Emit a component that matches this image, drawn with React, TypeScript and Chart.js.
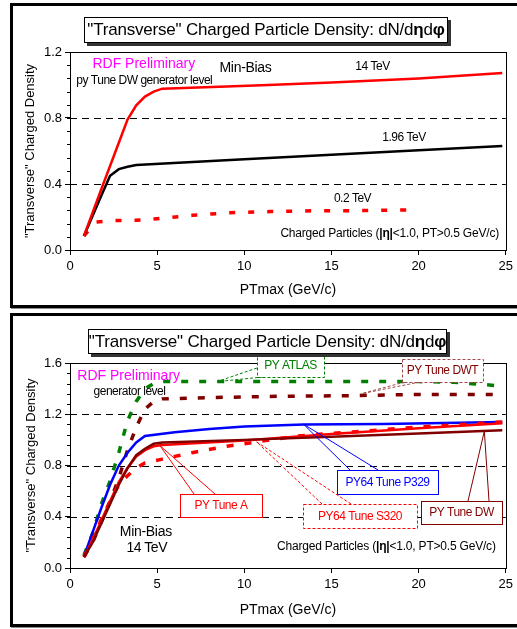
import React, { useEffect, useRef } from 'react';
import { Chart, registerables } from 'chart.js';
Chart.register(...registerables);

const FONT = '"Liberation Sans", Arial, Helvetica, sans-serif';

// ---------- shared axis ticks ----------
const xTickValues = [0, 5, 10, 15, 20, 25];
const topYTicks = [0, 0.4, 0.8, 1.2];
const botYTicks = [0, 0.4, 0.8, 1.2, 1.6];
const minorStep = 0.08;

// ---------- top chart data (Tune DW, three energies) ----------
const top14X = [0.8, 1.8, 2.8, 3.3, 3.8, 4.3, 4.8, 5.3, 11, 15, 20, 24.8];
const top14Y = [0.085, 0.37, 0.65, 0.79, 0.877, 0.93, 0.96, 0.978, 0.998, 1.015, 1.04, 1.073];
const top196X = [0.8, 1.8, 2.3, 2.8, 3.3, 3.8, 10, 15, 20, 24.8];
const top196Y = [0.085, 0.33, 0.45, 0.49, 0.505, 0.515, 0.55, 0.578, 0.605, 0.631];
const top02X = [0.8, 1.5, 2.5, 3.8, 5, 7, 9, 11.5, 14, 16, 19.6];
const top02Y = [0.085, 0.17, 0.178, 0.18, 0.19, 0.21, 0.225, 0.233, 0.238, 0.238, 0.243];

// ---------- bottom chart data (14 TeV, several tunes) ----------
const atlasX = [0.8, 1.3, 1.8, 2.3, 2.8, 3.3, 3.8, 4.3, 4.8, 5.3, 8, 12, 16, 20, 22, 24.8];
const atlasY = [0.1, 0.27, 0.5, 0.68, 0.9, 1.15, 1.3, 1.4, 1.44, 1.455, 1.455, 1.455, 1.455, 1.455, 1.45, 1.42];
const dwtX = [0.8, 1.3, 1.8, 2.3, 2.8, 3.3, 3.8, 4.3, 4.8, 5.3, 8, 12, 16, 20, 24.8];
const dwtY = [0.09, 0.2, 0.36, 0.52, 0.7, 0.92, 1.1, 1.24, 1.3, 1.32, 1.33, 1.34, 1.345, 1.355, 1.355];
const p329X = [0.8, 1.3, 1.8, 2.3, 2.8, 3.3, 3.8, 4.3, 6, 8, 10, 13.4, 18, 24.8];
const p329Y = [0.09, 0.28, 0.47, 0.65, 0.8, 0.9, 0.98, 1.03, 1.06, 1.085, 1.105, 1.12, 1.123, 1.14];
const tuneAX = [0.8, 1.3, 1.8, 2.3, 2.8, 3.3, 3.8, 4.3, 4.8, 5.3, 10, 15, 20, 24.8];
const tuneAY = [0.085, 0.22, 0.37, 0.52, 0.67, 0.78, 0.87, 0.92, 0.95, 0.96, 0.995, 1.045, 1.09, 1.13];
const tuneDWX = [0.8, 1.3, 1.8, 2.3, 2.8, 3.3, 3.8, 4.3, 4.8, 5.3, 10, 15, 20, 24.8];
const tuneDWY = [0.085, 0.2, 0.35, 0.5, 0.65, 0.78, 0.88, 0.93, 0.97, 0.98, 1.0, 1.025, 1.05, 1.075];
const s320X = [0.8, 1.3, 1.8, 2.3, 2.8, 3.3, 3.8, 4.3, 5.3, 7, 9, 11, 13, 15, 20, 24.8];
const s320Y = [0.085, 0.22, 0.38, 0.52, 0.65, 0.72, 0.78, 0.82, 0.85, 0.9, 0.95, 0.99, 1.03, 1.05, 1.1, 1.14];

const RED = '#ff0000';
const DARKRED = '#800000';
const GREEN = '#008000';
const BLUE = '#0000ff';

type Seg = { t: string; bold?: boolean };
type TextItem = { segs: Seg[]; x: number; y: number; size: number; color: string; align: 'left' | 'center' | 'right'; ls?: number };
type Callout = {
  text: string; box: { x: number; y: number; w: number; h: number }; tx: number; ty: number;
  bases: [number, number][]; target: [number, number]; color: string; border: string; dashed: boolean;
};

function drawRich(ctx: CanvasRenderingContext2D, it: TextItem) {
  ctx.save();
  ctx.fillStyle = it.color;
  ctx.textBaseline = 'middle';
  ctx.textAlign = 'left';
  (ctx as any).letterSpacing = (it.ls || 0) + 'px';
  const fonts = it.segs.map((s) => `${s.bold ? 'bold ' : ''}${it.size}px ${FONT}`);
  const widths = it.segs.map((s, i) => { ctx.font = fonts[i]; return ctx.measureText(s.t).width; });
  const total = widths.reduce((a, b) => a + b, 0);
  let cx = it.align === 'left' ? it.x : it.align === 'center' ? it.x - total / 2 : it.x - total;
  it.segs.forEach((s, i) => { ctx.font = fonts[i]; ctx.fillText(s.t, cx, it.y); cx += widths[i]; });
  ctx.restore();
}

type Spec = {
  width: number; height: number; top: number;
  yMax: number; yTicks: number[];
  padding: { left: number; right: number; top: number; bottom: number };
  xAxisHeight: number; xTitlePad: number; yTitlePad: number;
  datasets: any[];
  gridValues: number[];
  titleBox: { x: number; y: number; w: number; h: number; cx: number; cy: number };
  texts: TextItem[];
  callouts: Callout[];
};

function ChartPanel({ spec }: { spec: Spec }) {
  const ref = useRef<HTMLCanvasElement | null>(null);
  useEffect(() => {
    const canvas = ref.current!;
    const decor = {
      id: 'decor',
      beforeDatasetsDraw(chart: any) {
        const ctx = chart.ctx as CanvasRenderingContext2D;
        const { left, right } = chart.chartArea;
        const y = chart.scales.y;
        ctx.save();
        ctx.strokeStyle = '#000';
        ctx.lineWidth = 1;
        ctx.setLineDash([7, 5]);
        spec.gridValues.forEach((v) => {
          const py = Math.round(y.getPixelForValue(v)) + 0.5;
          ctx.beginPath(); ctx.moveTo(left, py); ctx.lineTo(right, py); ctx.stroke();
        });
        ctx.restore();
      },
      afterDatasetsDraw(chart: any) {
        const ctx = chart.ctx as CanvasRenderingContext2D;
        const { left, right, top, bottom } = chart.chartArea;
        const xs = chart.scales.x, ys = chart.scales.y;
        ctx.save();
        // plot border
        ctx.strokeStyle = '#000'; ctx.lineWidth = 1; ctx.setLineDash([]);
        ctx.strokeRect(Math.round(left) + 0.5, Math.round(top) + 0.5, Math.round(right - left), Math.round(bottom - top));
        // minor ticks on y
        const n = Math.round(spec.yMax / minorStep);
        for (let i = 0; i <= n; i++) {
          const py = Math.round(ys.getPixelForValue(i * minorStep)) + 0.5;
          ctx.beginPath(); ctx.moveTo(left - 3, py); ctx.lineTo(left, py); ctx.stroke();
        }
        // callouts
        spec.callouts.forEach((c) => {
          const tx = xs.getPixelForValue(c.target[0]);
          const ty = ys.getPixelForValue(c.target[1]);
          ctx.strokeStyle = c.border; ctx.lineWidth = 1;
          ctx.setLineDash(c.dashed ? [3, 2] : []);
          c.bases.forEach(([bx, by]) => { ctx.beginPath(); ctx.moveTo(bx, by); ctx.lineTo(tx, ty); ctx.stroke(); });
          ctx.fillStyle = '#fff';
          ctx.fillRect(c.box.x, c.box.y, c.box.w, c.box.h);
          ctx.strokeRect(c.box.x + 0.5, c.box.y + 0.5, c.box.w, c.box.h);
          ctx.setLineDash([]);
          drawRich(ctx, { segs: [{ t: c.text }], x: c.tx, y: c.ty, size: 12, color: c.color, align: 'center', ls: -0.5 });
        });
        // title box
        const tb = spec.titleBox;
        ctx.fillStyle = '#333';
        ctx.fillRect(tb.x + 3, tb.y + 3, tb.w, tb.h);
        ctx.fillStyle = '#fff';
        ctx.fillRect(tb.x, tb.y, tb.w, tb.h);
        ctx.strokeStyle = '#000';
        ctx.strokeRect(tb.x + 0.5, tb.y + 0.5, tb.w - 1, tb.h - 1);
        drawRich(ctx, {
          segs: [{ t: '"Transverse" Charged Particle Density: dN/d' }, { t: 'η', bold: true }, { t: 'd' }, { t: 'φ', bold: true }],
          x: tb.cx, y: tb.cy, size: 17, color: '#000', align: 'center', ls: -0.2,
        });
        spec.texts.forEach((t) => drawRich(ctx, t));
        ctx.restore();
      },
    };
    const chart = new Chart(canvas, {
      type: 'line',
      data: { datasets: spec.datasets },
      options: {
        animation: false,
        responsive: false,
        devicePixelRatio: 1,
        layout: { padding: spec.padding },
        plugins: { legend: { display: false }, tooltip: { enabled: false }, title: { display: false } },
        elements: { point: { radius: 0 }, line: { tension: 0 } },
        scales: {
          x: {
            type: 'linear', min: 0, max: 25,
            afterBuildTicks: (s: any) => { s.ticks = xTickValues.map((v) => ({ value: v })); },
            afterFit: (s: any) => { s.height = spec.xAxisHeight; },
            ticks: { font: { family: FONT, size: 13 }, color: '#000', padding: 4, maxRotation: 0, autoSkip: false, callback: (v: any) => String(v) },
            grid: { drawOnChartArea: false, drawTicks: true, tickLength: 5, tickColor: '#000', color: '#000' },
            border: { display: true, color: '#000', width: 1 },
            title: { display: true, text: 'PTmax (GeV/c)', font: { family: FONT, size: 14 }, color: '#000', padding: { top: 0, bottom: spec.xTitlePad } },
          },
          y: {
            type: 'linear', min: 0, max: spec.yMax,
            afterBuildTicks: (s: any) => { s.ticks = spec.yTicks.map((v) => ({ value: v })); },
            afterFit: (s: any) => { s.width = 70; },
            ticks: { font: { family: FONT, size: 13 }, color: '#000', padding: 3, autoSkip: false, callback: (v: any) => Number(v).toFixed(1) },
            grid: { drawOnChartArea: false, drawTicks: true, tickLength: 5, tickColor: '#000', color: '#000' },
            border: { display: true, color: '#000', width: 1 },
            title: { display: true, text: '"Transverse" Charged Density', font: { family: FONT, size: 13 }, color: '#000', padding: { top: spec.yTitlePad, bottom: 0 } },
          },
        },
      } as any,
      plugins: [decor],
    });
    return () => chart.destroy();
  }, [spec]);
  return (
    <canvas ref={ref} width={spec.width} height={spec.height}
      style={{ position: 'absolute', left: 0, top: spec.top, width: spec.width, height: spec.height }} />
  );
}

const pts = (xs: number[], ys: number[]) => xs.map((x, i) => ({ x, y: ys[i] }));

const topSpec: Spec = {
  width: 517, height: 310, top: 0, yMax: 1.2, yTicks: topYTicks,
  padding: { left: 0, right: 10, top: 52, bottom: 0 },
  xAxisHeight: 60, xTitlePad: 11.6, yTitlePad: 22.2,
  datasets: [
    { label: '14 TeV', data: pts(top14X, top14Y), borderColor: RED, borderWidth: 2.5, fill: false },
    { label: '1.96 TeV', data: pts(top196X, top196Y), borderColor: '#000', borderWidth: 2.5, fill: false },
    { label: '0.2 TeV', data: pts(top02X, top02Y), borderColor: RED, borderWidth: 3.5, borderDash: [6, 13], fill: false },
  ],
  gridValues: [0.4, 0.8],
  titleBox: { x: 84, y: 17, w: 364, h: 26, cx: 266, cy: 30.5 },
  texts: [
    { segs: [{ t: 'RDF Preliminary' }], x: 143.8, y: 64, size: 14, color: '#ff00ff', align: 'center' },
    { segs: [{ t: 'py Tune DW generator level' }], x: 144.3, y: 81, size: 12, color: '#000', align: 'center', ls: -0.5 },
    { segs: [{ t: 'Min-Bias' }], x: 245.5, y: 68.5, size: 14, color: '#000', align: 'center', ls: -0.3 },
    { segs: [{ t: '14 TeV' }], x: 372.5, y: 67, size: 12, color: '#000', align: 'center', ls: -0.5 },
    { segs: [{ t: '1.96 TeV' }], x: 404, y: 137.5, size: 12, color: '#000', align: 'center', ls: -0.5 },
    { segs: [{ t: '0.2 TeV' }], x: 352.5, y: 199, size: 12, color: '#000', align: 'center', ls: -0.5 },
    { segs: [{ t: 'Charged Particles (' }, { t: '|η|', bold: true }, { t: '<1.0, PT>0.5 GeV/c)' }], x: 499, y: 233.5, size: 12, color: '#000', align: 'right', ls: -0.2 },
  ],
  callouts: [],
};

const botSpec: Spec = {
  width: 517, height: 319, top: 310, yMax: 1.6, yTicks: botYTicks,
  padding: { left: 0, right: 7, top: 53, bottom: 0 },
  xAxisHeight: 61, xTitlePad: 10.6, yTitlePad: 23.9,
  datasets: [
    { label: 'PY Tune DW', data: pts(tuneDWX, tuneDWY), borderColor: DARKRED, borderWidth: 2.5, fill: false },
    { label: 'PY Tune A', data: pts(tuneAX, tuneAY), borderColor: RED, borderWidth: 2.5, fill: false },
    { label: 'PY64 Tune S320', data: pts(s320X, s320Y), borderColor: RED, borderWidth: 3.5, borderDash: [7, 11], fill: false },
    { label: 'PY64 Tune P329', data: pts(p329X, p329Y), borderColor: BLUE, borderWidth: 2.5, fill: false },
    { label: 'PY Tune DWT', data: pts(dwtX, dwtY), borderColor: DARKRED, borderWidth: 3.5, borderDash: [7, 11], fill: false },
    { label: 'PY ATLAS', data: pts(atlasX, atlasY), borderColor: GREEN, borderWidth: 3.5, borderDash: [7, 11], fill: false },
  ],
  gridValues: [0.4, 0.8, 1.2],
  titleBox: { x: 88, y: 19, w: 359, h: 25, cx: 267.5, cy: 32 },
  texts: [
    { segs: [{ t: 'RDF Preliminary' }], x: 128.7, y: 66, size: 14, color: '#ff00ff', align: 'center' },
    { segs: [{ t: 'generator level' }], x: 129.5, y: 82, size: 12, color: '#000', align: 'center', ls: -0.5 },
    { segs: [{ t: 'Min-Bias' }], x: 145.8, y: 221.7, size: 14, color: '#000', align: 'center', ls: -0.3 },
    { segs: [{ t: '14 TeV' }], x: 146.7, y: 237.7, size: 14, color: '#000', align: 'center', ls: -0.5 },
    { segs: [{ t: 'Charged Particles (' }, { t: '|η|', bold: true }, { t: '<1.0, PT>0.5 GeV/c)' }], x: 495.7, y: 236.7, size: 12, color: '#000', align: 'right', ls: -0.2 },
  ],
  callouts: [
    { text: 'PY ATLAS', box: { x: 257, y: 43, w: 67, h: 24 }, tx: 290.5, ty: 55.5, bases: [[257, 58], [263, 67]], target: [8.45, 1.455], color: GREEN, border: GREEN, dashed: true },
    { text: 'PY Tune DWT', box: { x: 402, y: 49, w: 81, h: 23 }, tx: 442.5, ty: 61, bases: [[405, 72], [420, 72]], target: [16.7, 1.36], color: DARKRED, border: '#a04848', dashed: true },
    { text: 'PY64 Tune P329', box: { x: 337, y: 160, w: 101, h: 24 }, tx: 387.5, ty: 172.5, bases: [[350, 160], [378, 160]], target: [13.4, 1.122], color: BLUE, border: BLUE, dashed: false },
    { text: 'PY64 Tune S320', box: { x: 303, y: 194, w: 114, h: 24 }, tx: 360, ty: 206.5, bases: [[322, 194], [351, 194]], target: [10.7, 0.985], color: RED, border: RED, dashed: true },
    { text: 'PY Tune DW', box: { x: 421, y: 191, w: 81, h: 23 }, tx: 461.5, ty: 203, bases: [[468, 191], [489, 191]], target: [23.77, 1.068], color: DARKRED, border: DARKRED, dashed: false },
    { text: 'PY Tune A', box: { x: 180, y: 184, w: 82, h: 23 }, tx: 221, ty: 196, bases: [[194, 184], [215, 184]], target: [5.16, 0.955], color: RED, border: RED, dashed: false },
  ],
};

export default function App() {
  const frame: React.CSSProperties = {
    position: 'absolute', left: 10, width: 520, border: '3px solid #000', boxSizing: 'border-box',
    boxShadow: '1px 1px 0 #888', background: '#fff',
  };
  return (
    <div style={{ position: 'absolute', left: 0, top: 0, width: 517, height: 629, overflow: 'hidden', background: '#fff' }}>
      <div style={{ ...frame, top: 3, height: 305 }} />
      <div style={{ ...frame, top: 313, height: 314 }} />
      <ChartPanel spec={topSpec} />
      <ChartPanel spec={botSpec} />
    </div>
  );
}
